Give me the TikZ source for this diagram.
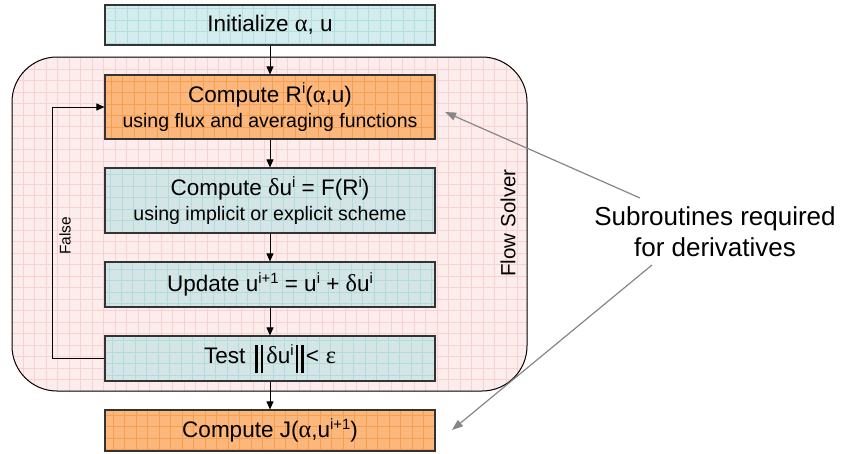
\documentclass[tikz,border=0pt]{standalone}
\usepackage{fontspec}
\usepackage{graphicx}
\setmainfont{Liberation Sans}
\newfontfamily\grk[Scale=1.08]{Liberation Serif}
\usetikzlibrary{arrows.meta}
\definecolor{tealfill}{HTML}{D3ECEC}
\definecolor{tealgrid}{HTML}{B0DEE1}
\definecolor{tealfillB}{HTML}{D3E5E5}
\definecolor{tealgridB}{HTML}{B3DADD}
\definecolor{orfill}{HTML}{FBB77C}
\definecolor{orgrid}{HTML}{F5A050}
\definecolor{pinkfill}{HTML}{FDECEC}
\definecolor{pinkgrid}{HTML}{F7D2D2}
\definecolor{boxline}{HTML}{333333}
\newcommand\spr[1]{\raisebox{0.38em}{\scalebox{0.66}{#1}}}
\newcommand\nbar{\rule[-0.4em]{0.1em}{1.22em}\hspace{0.14em}\rule[-0.4em]{0.1em}{1.22em}}
\tikzset{
  gridfill/.style={path picture={\draw[#1,line width=0.6pt]
     ([shift={(-30,-30)}]path picture bounding box.center) ++(-400,-400) grid[step=11.5pt] ++(800,800);}},
  stepbox/.style={draw=boxline, line width=1.1pt, minimum width=330pt, inner sep=0pt,
     font=\fontsize{22.5}{26}\selectfont, align=center},
  tealbox/.style={stepbox, fill=tealfill, gridfill=tealgrid},
  tealboxB/.style={stepbox, fill=tealfillB, gridfill=tealgridB},
  orbox/.style={stepbox, fill=orfill, gridfill=orgrid},
  arr/.style={draw=black, line width=0.9pt, -{Triangle[length=8pt,width=7pt]}},
  garr/.style={draw=gray!95, line width=1.2pt, -{Triangle[length=11pt,width=8pt]}},
}
\begin{document}
\begin{tikzpicture}[x=1pt,y=-1pt]
\useasboundingbox (0,0) rectangle (845,453);
% container
\path[fill=pinkfill, rounded corners=45pt] (12,57) rectangle (527,391);
\begin{scope}
\clip[rounded corners=45pt] (12,57) rectangle (527,391);
\draw[pinkgrid, line width=0.6pt] (0,45) grid[step=11.5pt] (540,400);
\end{scope}
\node[draw=black, line width=1pt, rounded corners=45pt, minimum width=515pt, minimum height=334pt, inner sep=0pt] (solver) at (269.5,224) {};

\node[tealbox, minimum height=40pt] (init) at (270,25) {Initialize {\grk α}, u};
\node[orbox, minimum height=64pt] (R) at (270,107) {Compute R\spr{i}({\grk α},u)\\[-1pt]{\fontsize{19.5}{22}\selectfont using flux and averaging functions}};
\node[tealboxB, minimum height=65pt] (du) at (270,200.5) {Compute {\grk δ}u\spr{i} = F(R\spr{i})\\[-1pt]{\fontsize{19.5}{22}\selectfont using implicit or explicit scheme}};
\node[tealboxB, minimum height=45pt] (upd) at (270,284.5) {Update u\spr{i+1} = u\spr{i} + {\grk δ}u\spr{i}};
\node[tealboxB, minimum height=45pt] (test) at (270,358.5) {Test\hspace{0.45em}\nbar\hspace{0.15em}{\grk δ}u\spr{i}\hspace{0.1em}\nbar\hspace{0.1em}<\hspace{0.3em}{\grk ε}};
\node[orbox, minimum height=41pt] (J) at (270,430.5) {Compute J({\grk α},u\spr{i+1})};

\node[rotate=90, font=\fontsize{20.5}{22}\selectfont] (fslabel) at (508,223) {Flow Solver};
\node[rotate=90, font=\fontsize{15.5}{18}\selectfont] (falselabel) at (65,236) {False};

\draw[arr] (init) -- (R);
\draw[arr] (R) -- (du);
\draw[arr] (du) -- (upd);
\draw[arr] (upd) -- (test);
\draw[arr] (test) -- (J);
\coordinate (fb) at (52,358.5);
\draw[arr] (test.west) -- (fb) |- (R.west);

\node[font=\fontsize{26}{31}\selectfont, align=center] (sub) at (715,232) {Subroutines required\\for derivatives};
\coordinate (s1) at (640,198);
\coordinate (e1) at (445,112);
\coordinate (s2) at (652,265);
\coordinate (e2) at (452,430);
\draw[garr] (s1) -- (e1);
\draw[garr] (s2) -- (e2);
\end{tikzpicture}
\end{document}
